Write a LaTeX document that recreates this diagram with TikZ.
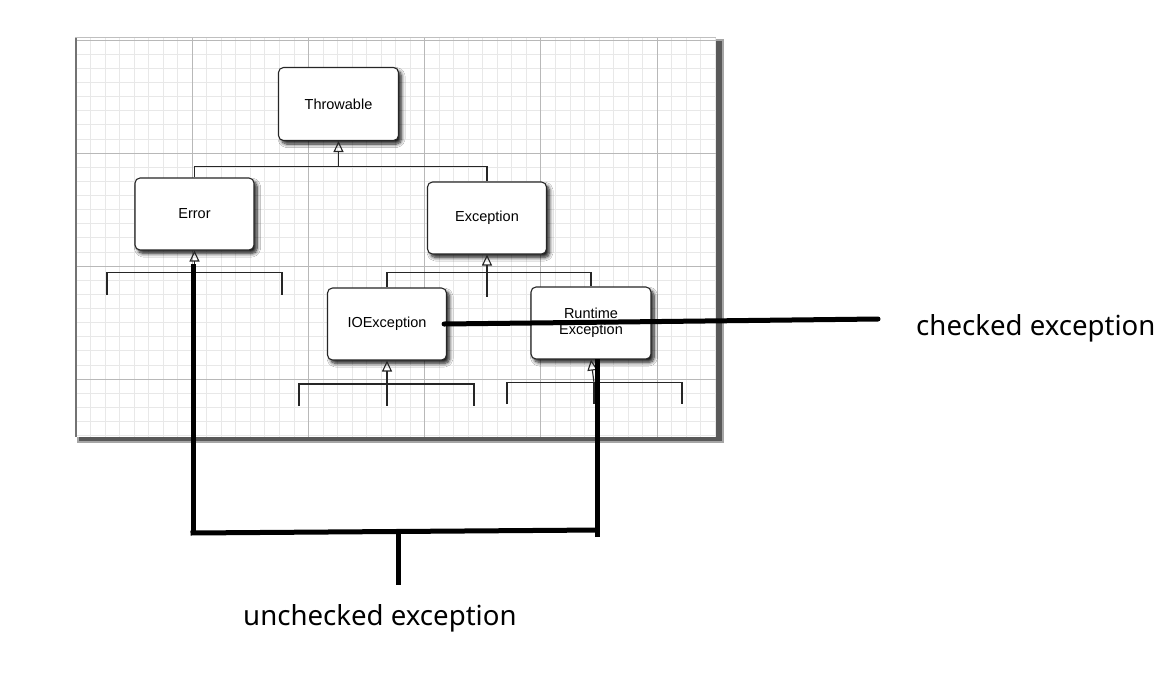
\documentclass[tikz,border=0pt]{standalone}
\usepackage{fontspec}
\setmainfont{Liberation Sans}
\newfontfamily\annfont{Noto Sans}
\usetikzlibrary{arrows.meta,shadows.blur}
\begin{document}
\begin{tikzpicture}[x=1pt,y=-1pt,
  cls/.style={draw=black!85, line width=1.1pt, rounded corners=5pt, fill=white,
    minimum width=119pt, minimum height=72pt, inner sep=0pt,
    font=\fontsize{14.5}{16}\selectfont, align=center,
    blur shadow={shadow xshift=3pt, shadow yshift=-3.5pt, shadow blur steps=8,
      shadow opacity=90, shadow blur radius=3.5pt}},
  link/.style={draw=black!85, line width=1.1pt},
  inh/.style={link, -{Triangle[open, width=10pt, length=11pt, line width=1.1pt]}},
  annline/.style={line width=5pt, black},
  anntext/.style={font=\annfont\fontsize{27.6}{32}\selectfont, inner sep=0pt, anchor=base west},
  gridfine/.style={draw=black!9, line width=0.7pt},
  gridmajor/.style={draw=black!28, line width=0.9pt}
]
\useasboundingbox (0,0) rectangle (1170,689);
\fill[white] (0,0) rectangle (1170,689);

% panel with shadow and grid
\fill[black!35] (77,39) rectangle (724,443);
\fill[black!65] (79,41) rectangle (722,441);
\fill[white] (75,37) rectangle (716,437);
\begin{scope}
  \clip (75,37) rectangle (716,437);
  \foreach \i in {0,...,45} \draw[gridfine] ({76+\i*14.525},37) -- ({76+\i*14.525},437);
  \foreach \j in {0,...,29} \draw[gridfine] (75,{40+\j*14.125}) -- (716,{40+\j*14.125});
  \foreach \i in {0,...,5} \draw[gridmajor] ({76+\i*116.2},37) -- ({76+\i*116.2},437);
  \foreach \j in {0,...,3} \draw[gridmajor] (75,{40+\j*113}) -- (716,{40+\j*113});
\end{scope}
\draw[black!55, line width=2pt] (76,37) -- (76,437);
\draw[black!25, line width=1pt] (75,37.5) -- (716,37.5);

% class boxes
\node[cls, minimum width=120pt, minimum height=73pt] (thr) at (338.5,104) {Throwable};
\node[cls] (err) at (194.5,214) {Error};
\node[cls] (exc) at (487,218) {Exception};
\node[cls] (ioe) at (387,324) {IOException};
\node[cls, minimum width=120pt] (rte) at (591,323) {Runtime\\Exception};

% junction points
\coordinate (j1) at (338.5,166.7);
\coordinate (j2) at (194.5,272.7);
\coordinate (j3) at (487,272.7);
\coordinate (j4) at (387,384);
\coordinate (j5) at (594,382.7);

% Throwable subtree
\draw[inh] (j1) -- (thr.south);
\draw[link] (err.north) -- (err.north |- j1) -- (exc.north |- j1) -- (exc.north);

% Error subtree (children cut off)
\coordinate (e1) at (107,295);
\coordinate (e2) at (282,295);
\draw[inh] (j2) -- (err.south);
\draw[link] (e1) -- (e1 |- j2) -- (e2 |- j2) -- (e2);

% Exception subtree
\coordinate (x1) at (487,297);
\draw[inh] (j3) -- (exc.south);
\draw[link] (ioe.north) -- (ioe.north |- j3) -- (rte.north |- j3) -- (rte.north);
\draw[link] (j3) -- (x1);

% IOException subtree
\coordinate (i1) at (299,406);
\coordinate (i2) at (474,406);
\coordinate (i3) at (387,406);
\draw[inh] (j4) -- (ioe.south);
\draw[link] (i1) -- (i1 |- j4) -- (i2 |- j4) -- (i2);
\draw[link] (j4) -- (i3);

% RuntimeException subtree
\coordinate (r1) at (507,404);
\coordinate (r2) at (682,404);
\coordinate (r3) at (594,404);
\draw[inh] (j5) -- (rte.south);
\draw[link] (r1) -- (r1 |- j5) -- (r2 |- j5) -- (r2);
\draw[link] (j5) -- (r3);

% annotations
\coordinate (ua) at (193,264);
\coordinate (ub) at (193,533);
\coordinate (uc) at (597,530);
\coordinate (ud) at (597,537);
\coordinate (ue) at (597,359);
\coordinate (um) at (398,531);
\coordinate (un) at (398,585);
\draw[annline] (ua) -- (ub);
\draw[annline] ([xshift=-2.5pt]ub) -- ([xshift=2.5pt]uc);
\draw[annline] (ud) -- (ue);
\draw[annline] (um) -- (un);
\node[anntext] (utext) at (243,625) {unchecked exception};

\coordinate (cb) at (878,319);
\draw[annline, line cap=round] ([xshift=-3pt]ioe.east) -- (cb);
\node[anntext] (ctext) at (916,335) {checked exception};
\end{tikzpicture}
\end{document}
